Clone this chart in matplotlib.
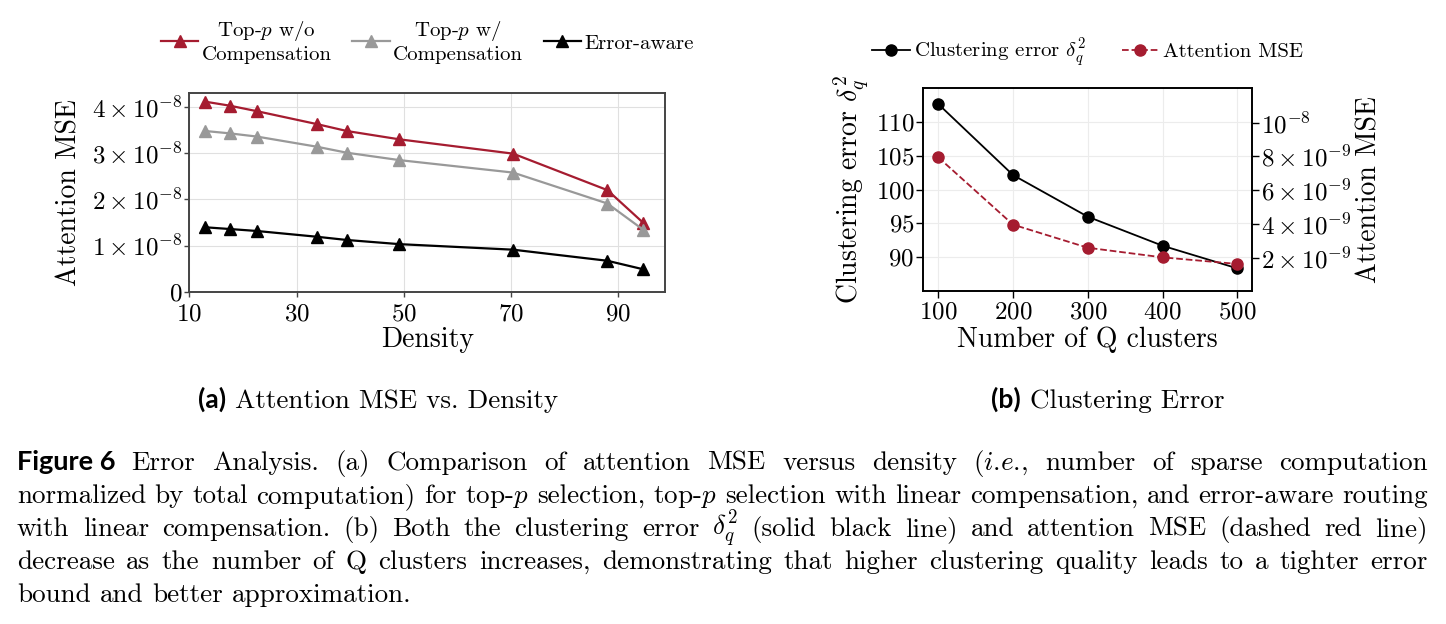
import matplotlib
matplotlib.use('Agg')
import matplotlib.pyplot as plt
from matplotlib.ticker import FuncFormatter, FixedLocator
import math

plt.rcParams.update({
    'font.family': 'serif',
    'font.serif': ['cmr10'],
    'mathtext.fontset': 'cm',
    'axes.formatter.use_mathtext': True,
    'axes.unicode_minus': False,
})

# ---------------- data ----------------
density = [13.0, 17.5, 22.6, 33.8, 39.4, 49.2, 70.4, 88.0, 94.7]
mse_topp_wo = [4.115e-8, 4.03e-8, 3.91e-8, 3.63e-8, 3.48e-8, 3.30e-8, 2.99e-8, 2.20e-8, 1.49e-8]
mse_topp_w = [3.48e-8, 3.43e-8, 3.36e-8, 3.14e-8, 3.01e-8, 2.85e-8, 2.58e-8, 1.91e-8, 1.34e-8]
mse_error_aware = [1.395e-8, 1.358e-8, 1.315e-8, 1.19e-8, 1.12e-8, 1.03e-8, 0.91e-8, 0.67e-8, 0.485e-8]
series_labels_a = ['Top-$p$ w/o\nCompensation', 'Top-$p$ w/\nCompensation', 'Error-aware']
xticks_a = [10, 30, 50, 70, 90]
yticks_a = [0, 1e-8, 2e-8, 3e-8, 4e-8]

n_clusters = [100, 200, 300, 400, 500]
clustering_error = [112.72, 102.15, 95.95, 91.63, 88.26]
attn_mse_clusters = [7.95e-9, 3.96e-9, 2.59e-9, 2.02e-9, 1.63e-9]
series_labels_b = [r'Clustering error $\delta_q^2$', 'Attention MSE']
yticks_b_left = [90, 95, 100, 105, 110]
yticks_b_right = [2e-9, 4e-9, 6e-9, 8e-9, 1e-8]

subcaptions = [('(a)', 'Attention MSE vs. Density'), ('(b)', 'Clustering Error')]
caption_label = 'Figure 6'
caption_lines = [
    'Error Analysis. (a) Comparison of attention MSE versus density ($i$.$e$., number of sparse computation',
    'normalized by total computation) for top-$p$ selection, top-$p$ selection with linear compensation, and error-aware routing',
    r'with linear compensation. (b) Both the clustering error $\delta_q^2$ (solid black line) and attention MSE (dashed red line)',
    'decrease as the number of Q clusters increases, demonstrating that higher clustering quality leads to a tighter error',
    'bound and better approximation.',
]

RED = '#A51C30'
GRAY = '#999999'
W, H = 1446, 624
TICK_FS = 18


def sci_fmt_full(v, pos=None):
    if v == 0:
        return '0'
    e = int(math.floor(math.log10(abs(v)) + 1e-9))
    m = round(v / 10 ** e)
    return r'$%d \times 10^{%d}$' % (m, e)


def sci_fmt_short(v, pos=None):
    if v == 0:
        return '0'
    e = int(math.floor(math.log10(abs(v)) + 1e-9))
    m = round(v / 10 ** e)
    if m == 1:
        return r'$10^{%d}$' % e
    return r'$%d \times 10^{%d}$' % (m, e)


fig = plt.figure(figsize=(W / 100, H / 100), dpi=100)

# ---------------- (a) ----------------
ax1 = fig.add_axes([189.3 / W, 1 - 291.7 / H, (665.3 - 189.3) / W, (291.7 - 93.3) / H])
ax1.plot(density, mse_topp_wo, color=RED, marker='^', ms=8, lw=1.6, label=series_labels_a[0], zorder=3)
ax1.plot(density, mse_topp_w, color=GRAY, marker='^', ms=8, lw=1.6, label=series_labels_a[1], zorder=3)
ax1.plot(density, mse_error_aware, color='black', marker='^', ms=8, lw=1.6, label=series_labels_a[2], zorder=3)
ax1.set_xlim(10, 98.8)
ax1.set_ylim(0, 4.297e-8)
ax1.xaxis.set_major_locator(FixedLocator(xticks_a))
ax1.yaxis.set_major_locator(FixedLocator(yticks_a))
ax1.yaxis.set_major_formatter(FuncFormatter(sci_fmt_full))
ax1.grid(True, color='#e0e0e0', lw=0.8)
ax1.set_axisbelow(True)
for s in ax1.spines.values():
    s.set_color('#444444')
    s.set_linewidth(1.4)
ax1.tick_params(labelsize=TICK_FS, length=3.5, width=1, color='#444444', pad=1.5)
ax1.tick_params(axis='x', pad=5)
ax1.set_xlabel('Density', fontsize=20, labelpad=1)
ax1.set_ylabel('Attention MSE', fontsize=20, labelpad=7)
leg1 = ax1.legend(loc='lower center', bbox_to_anchor=(0.5, 1.0), ncol=3, frameon=False,
                  fontsize=15, handlelength=1.8, handletextpad=0.15, columnspacing=1.0,
                  borderaxespad=1.0)
for t in leg1.get_texts():
    t.set_multialignment('center')

# ---------------- (b) ----------------
ax2 = fig.add_axes([923.3 / W, 1 - 290.7 / H, (1252.3 - 923.3) / W, (290.7 - 88.3) / H])
l1, = ax2.plot(n_clusters, clustering_error, color='black', marker='o', ms=8, lw=1.3,
               label=series_labels_b[0])
ax2.set_ylim(84.94, 115.06)
ax2.set_xticks(n_clusters)
ax2.yaxis.set_major_locator(FixedLocator(yticks_b_left))
ax2.grid(True, color='#ececec', lw=0.8)
ax2.set_axisbelow(True)
ax2.tick_params(labelsize=TICK_FS, length=5, width=1, pad=1.5)
ax2.tick_params(axis='x', pad=3)
ax2.set_xlabel('Number of Q clusters', fontsize=20, labelpad=2)
ax2.set_ylabel(series_labels_b[0], fontsize=20, labelpad=3)

ax3 = ax2.twinx()
l2, = ax3.plot(n_clusters, attn_mse_clusters, color=RED, ls='--', marker='o', ms=8, lw=1.3,
               label=series_labels_b[1])
ax3.set_ylim(0.044e-9, 12.04e-9)
ax3.yaxis.set_major_locator(FixedLocator(yticks_b_right))
ax3.yaxis.set_major_formatter(FuncFormatter(sci_fmt_short))
ax3.tick_params(labelsize=TICK_FS, length=5, width=1, pad=1.5)
ax3.set_ylabel('Attention MSE', fontsize=20, labelpad=3)
for a in (ax2, ax3):
    for s in a.spines.values():
        s.set_color('black')
        s.set_linewidth(1.2)
ax2.legend([l1, l2], [l1.get_label(), l2.get_label()], loc='lower center',
           bbox_to_anchor=(0.5, 1.0), ncol=2, frameon=False, fontsize=15,
           handlelength=1.8, handletextpad=0.2, columnspacing=1.7, borderaxespad=0.55)

# ---------------- captions ----------------
renderer = fig.canvas.get_renderer()


def px_text(x, y, s, **kw):
    return fig.text(x / W, 1 - y / H, s, va='baseline', **kw)


def wpx(t):
    return t.get_window_extent(renderer).width


SANS_BOLD = dict(fontfamily='Lato', fontweight='bold')

# subcaptions
for (lab, txt), cx in zip(subcaptions, [378, 1108]):
    y = 408
    tb = px_text(0, y, lab, fontsize=19, **SANS_BOLD)
    tt = px_text(0, y, txt, fontsize=19.5)
    gap = 9
    total = wpx(tb) + gap + wpx(tt)
    x = cx - total / 2
    tb.set_x(x / W)
    tt.set_x((x + wpx(tb) + gap) / W)

# justified figure caption
cap_fs = 19.5
x0, x1 = 17, 1428
baselines = [470, 503, 536, 569, 602]
space_nat = cap_fs * 0.333 * 100 / 72
for i, line in enumerate(caption_lines):
    y = baselines[i]
    xs = x0
    if i == 0:
        tl = px_text(x0, y, caption_label, fontsize=19.5, **SANS_BOLD)
        xs = x0 + wpx(tl) + 16
    words = line.split(' ')
    objs = [px_text(0, y, w, fontsize=cap_fs) for w in words]
    widths = [wpx(o) for o in objs]
    if i == len(caption_lines) - 1:
        sp = space_nat
    else:
        sp = (x1 - xs - sum(widths)) / (len(words) - 1)
    x = xs
    for o, w in zip(objs, widths):
        o.set_x(x / W)
        x += w + sp

fig.savefig('out.png', dpi=100)
